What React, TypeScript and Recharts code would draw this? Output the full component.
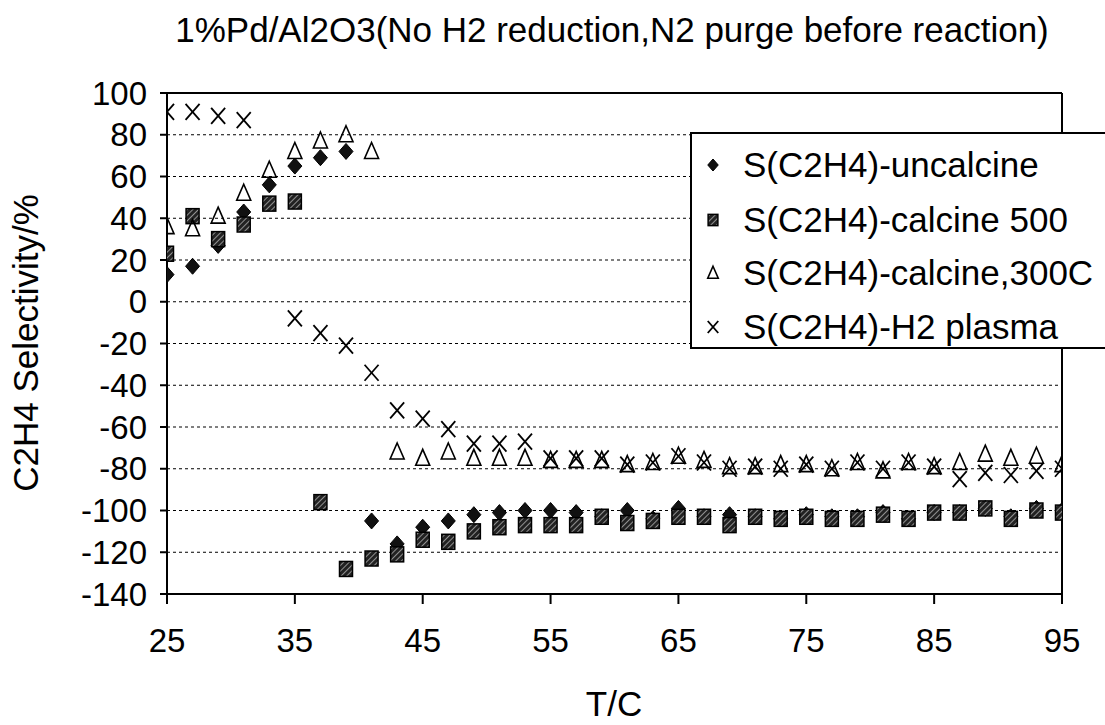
import React from 'react';
import { ScatterChart, Scatter, XAxis, YAxis, CartesianGrid, ReferenceLine, Legend } from 'recharts';

// 反应温度 T/C
const temps = [25, 27, 29, 31, 33, 35, 37, 39, 41, 43, 45, 47, 49, 51, 53, 55, 57, 59, 61, 63, 65, 67, 69, 71, 73, 75, 77, 79, 81, 83, 85, 87, 89, 91, 93, 95];

// C2H4 选择性 / %
const uncalcine = [13, 17, 27, 43, 56, 65, 69, 72, -105, -116, -108, -105, -102, -101, -100, -100, -101, -103, -100, -104, -99, -103, -102, -103, -104, -102, -103, -103, -101, -104, -101, -101, -99, -103, -99, -100];
const calcine500 = [23, 41, 30, 37, 47, 48, -96, -128, -123, -121, -114, -115, -110, -108, -107, -107, -107, -103, -106, -105, -103, -103, -107, -103, -104, -103, -104, -104, -102, -104, -101, -101, -99, -104, -100, -101];
const calcine300 = [36, 35, 41, 52, 63, 72, 77, 80, 72, -72, -75, -72, -75, -75, -75, -76, -76, -76, -78, -77, -74, -76, -79, -79, -78, -78, -80, -77, -81, -77, -79, -77, -73, -75, -74, -78];
const h2Plasma = [91, 91, 89, 87, null, -8, -15, -21, -34, -52, -56, -61, -68, -68, -67, -75, -75, -75, -78, -77, -74, -77, -80, -79, -80, -78, -80, -77, -80, -77, -79, -85, -82, -83, -81, -80];

const xTicks = [25, 35, 45, 55, 65, 75, 85, 95];
const yTicks = [-140, -120, -100, -80, -60, -40, -20, 0, 20, 40, 60, 80, 100];

const seriesNames = ['S(C2H4)-uncalcine', 'S(C2H4)-calcine 500', 'S(C2H4)-calcine,300C', 'S(C2H4)-H2 plasma'];

const toPoints = (vals: (number | null)[]) =>
  temps.map((t, i) => ({ x: t, y: vals[i] })).filter(p => p.y !== null);

// 标记形状
const DiamondMark = ({ cx, cy, s = 1 }: any) => (
  <path
    d={`M${cx},${cy - 8 * s} L${cx + 7 * s},${cy} L${cx},${cy + 8 * s} L${cx - 7 * s},${cy} Z`}
    fill="#111"
    stroke="#000"
    strokeWidth={1}
  />
);

const SquareMark = ({ cx, cy, s = 1 }: any) => (
  <g>
    <defs>
      <pattern id="hatch500" patternUnits="userSpaceOnUse" width={4} height={4} patternTransform="rotate(45)">
        <rect width={4} height={4} fill="#222" />
        <line x1={0} y1={0} x2={0} y2={4} stroke="#ccc" strokeWidth={1.3} />
      </pattern>
    </defs>
    <rect x={cx - 6.5 * s} y={cy - 7.5 * s} width={13 * s} height={15 * s} fill="url(#hatch500)" stroke="#000" strokeWidth={1.5} />
  </g>
);

const TriangleMark = ({ cx, cy, s = 1 }: any) => (
  <path
    d={`M${cx},${cy - 9 * s} L${cx + 7 * s},${cy + 7 * s} L${cx - 7 * s},${cy + 7 * s} Z`}
    fill="none"
    stroke="#000"
    strokeWidth={1.6}
  />
);

const CrossMark = ({ cx, cy, s = 1 }: any) => (
  <g stroke="#000" strokeWidth={1.8}>
    <line x1={cx - 7 * s} y1={cy - 8 * s} x2={cx + 7 * s} y2={cy + 8 * s} />
    <line x1={cx + 7 * s} y1={cy - 8 * s} x2={cx - 7 * s} y2={cy + 8 * s} />
  </g>
);

const marks = [DiamondMark, SquareMark, TriangleMark, CrossMark];
const legendRows = [33, 88, 141, 195];

const LegendBox = () => (
  <svg width={415} height={218} style={{ display: 'block' }}>
    <rect x={1} y={1} width={440} height={215} fill="#fff" stroke="#000" strokeWidth={2} />
    {seriesNames.map((name, i) => {
      const Mark = marks[i];
      const cy = legendRows[i];
      return (
        <g key={name}>
          <Mark cx={23} cy={cy} s={0.75} />
          <text x={53} y={cy + 12} fontSize={35} fill="#000">{name}</text>
        </g>
      );
    })}
  </svg>
);

const App: React.FC = () => {
  const series = [uncalcine, calcine500, calcine300, h2Plasma];

  return (
    <div
      style={{
        position: 'absolute',
        left: 0,
        top: 0,
        width: 1105,
        height: 725,
        background: '#fff',
        fontFamily: '"Liberation Sans", Arial, sans-serif',
      }}
    >
      <ScatterChart width={1105} height={725} margin={{ top: 93, right: 43, bottom: 71, left: 107 }}>
        <CartesianGrid horizontal vertical={false} stroke="#000" strokeDasharray="3 3" />
        <XAxis
          type="number"
          dataKey="x"
          domain={[25, 95]}
          ticks={xTicks}
          height={60}
          tickSize={10}
          tickMargin={25}
          stroke="#000"
          strokeWidth={2}
          tick={{ fontSize: 33, fill: '#000' }}
          allowDataOverflow
        />
        <YAxis
          type="number"
          dataKey="y"
          domain={[-140, 100]}
          ticks={yTicks}
          width={60}
          tickSize={7}
          tickMargin={13}
          stroke="#000"
          strokeWidth={2}
          tick={{ fontSize: 33, fill: '#000' }}
          interval={0}
          allowDataOverflow
        />
        <ReferenceLine y={100} stroke="#000" strokeWidth={2} />
        <ReferenceLine x={95} stroke="#000" strokeWidth={2} />
        {series.map((vals, i) => {
          const Mark = marks[i];
          return (
            <Scatter
              key={seriesNames[i]}
              name={seriesNames[i]}
              data={toPoints(vals)}
              fill="#000"
              shape={(props: any) => <Mark cx={props.cx} cy={props.cy} />}
              isAnimationActive={false}
            />
          );
        })}
        <Legend
          layout="horizontal"
          verticalAlign="middle"
          align="center"
          content={<LegendBox />}
          wrapperStyle={{ left: 690, top: 132, width: 415, height: 218 }}
        />
      </ScatterChart>

      <svg width={1105} height={725} style={{ position: 'absolute', left: 0, top: 0, pointerEvents: 'none' }}>
        <text x={612} y={42} fontSize={35} textAnchor="middle" fill="#000">
          1%Pd/Al2O3(No H2 reduction,N2 purge before reaction)
        </text>
        <text x={38} y={343} fontSize={35} textAnchor="middle" fill="#000" transform="rotate(-90, 38, 343)">
          C2H4 Selectivity/%
        </text>
        <text x={614} y={716} fontSize={35} textAnchor="middle" fill="#000">
          T/C
        </text>
      </svg>
    </div>
  );
};

export default App;
